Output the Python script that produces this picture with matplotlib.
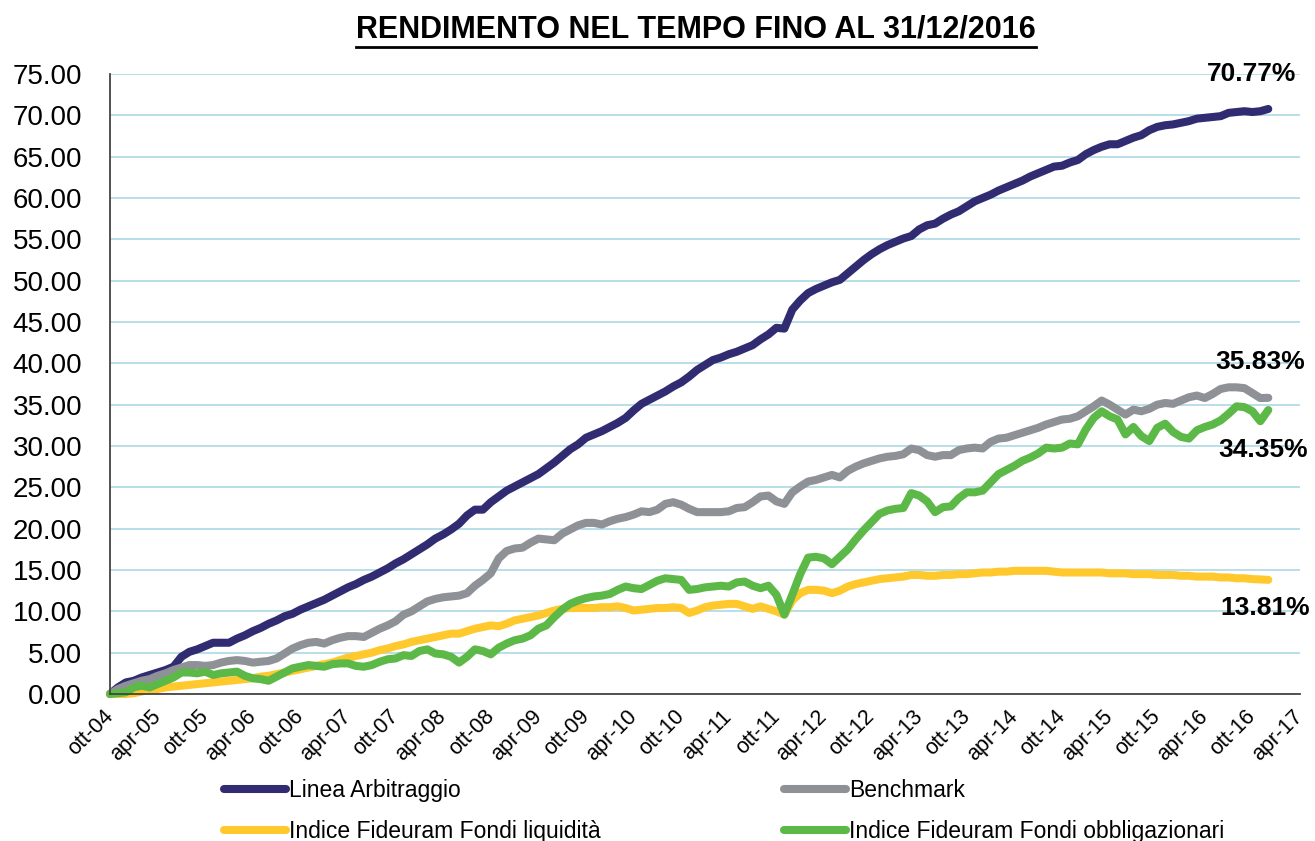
import matplotlib
matplotlib.use('Agg')
import matplotlib.pyplot as plt
from matplotlib.lines import Line2D
import numpy as np

plt.rcParams['font.family'] = ['Liberation Sans', 'DejaVu Sans']

# monthly values, ott-04 .. dic-16
linea = [0.0, 0.8, 1.4, 1.6, 2.0, 2.3, 2.6, 2.9, 3.3, 4.5, 5.1, 5.4, 5.8, 6.2, 6.2, 6.2, 6.7, 7.1, 7.6, 8.0,
         8.5, 8.9, 9.4, 9.7, 10.2, 10.6, 11.0, 11.4, 11.9, 12.4, 12.9, 13.3, 13.8, 14.2, 14.7, 15.2, 15.8, 16.3, 16.9, 17.5,
         18.1, 18.8, 19.3, 19.9, 20.6, 21.6, 22.3, 22.3, 23.2, 23.9, 24.6, 25.1, 25.6, 26.1, 26.6, 27.3, 28.0, 28.8, 29.6, 30.2,
         31.0, 31.4, 31.8, 32.3, 32.8, 33.4, 34.3, 35.1, 35.6, 36.1, 36.6, 37.2, 37.7, 38.4, 39.2, 39.8, 40.4, 40.7, 41.1, 41.4,
         41.8, 42.2, 42.9, 43.5, 44.3, 44.2, 46.5, 47.6, 48.5, 49.0, 49.4, 49.8, 50.1, 50.9, 51.7, 52.5, 53.2, 53.8, 54.3, 54.7,
         55.1, 55.4, 56.2, 56.7, 56.9, 57.5, 58.0, 58.4, 59.0, 59.6, 60.0, 60.4, 60.9, 61.3, 61.7, 62.1, 62.6, 63.0, 63.4, 63.8,
         63.9, 64.3, 64.6, 65.3, 65.8, 66.2, 66.5, 66.5, 66.9, 67.3, 67.6, 68.2, 68.6, 68.8, 68.9, 69.1, 69.3, 69.6, 69.7, 69.8,
         69.9, 70.3, 70.4, 70.5, 70.4, 70.5, 70.77]

benchmark = [0.0, 0.6, 1.0, 1.3, 1.6, 1.8, 2.2, 2.5, 2.9, 3.2, 3.5, 3.5, 3.4, 3.5, 3.8, 4.0, 4.1, 4.0, 3.8, 3.9,
             4.0, 4.3, 4.9, 5.5, 5.9, 6.2, 6.3, 6.1, 6.5, 6.8, 7.0, 7.0, 6.9, 7.4, 7.9, 8.3, 8.8, 9.6, 10.0, 10.6,
             11.2, 11.5, 11.7, 11.8, 11.9, 12.2, 13.1, 13.8, 14.6, 16.4, 17.3, 17.6, 17.7, 18.3, 18.8, 18.7, 18.6, 19.4, 19.9, 20.4,
             20.7, 20.7, 20.5, 20.9, 21.2, 21.4, 21.7, 22.1, 22.0, 22.3, 23.0, 23.2, 22.9, 22.4, 22.0, 22.0, 22.0, 22.0, 22.1, 22.5,
             22.6, 23.2, 23.9, 24.0, 23.3, 23.0, 24.4, 25.1, 25.7, 25.9, 26.2, 26.5, 26.2, 27.0, 27.5, 27.9, 28.2, 28.5, 28.7, 28.8,
             29.0, 29.7, 29.5, 28.9, 28.7, 28.9, 28.9, 29.5, 29.7, 29.8, 29.7, 30.5, 30.9, 31.0, 31.3, 31.6, 31.9, 32.2, 32.6, 32.9,
             33.2, 33.3, 33.6, 34.2, 34.8, 35.5, 35.0, 34.4, 33.8, 34.4, 34.2, 34.5, 35.0, 35.2, 35.1, 35.5, 35.9, 36.1, 35.8, 36.3,
             36.9, 37.1, 37.1, 37.0, 36.4, 35.8, 35.83]

liquidita = [0.0, 0.0, 0.0, 0.1, 0.3, 0.5, 0.6, 0.8, 0.9, 1.0, 1.1, 1.2, 1.3, 1.4, 1.5, 1.6, 1.7, 1.8, 1.9, 2.1,
             2.2, 2.4, 2.6, 2.8, 3.0, 3.2, 3.4, 3.6, 3.8, 4.1, 4.4, 4.6, 4.8, 5.0, 5.3, 5.5, 5.8, 6.0, 6.3, 6.5,
             6.7, 6.9, 7.1, 7.3, 7.3, 7.6, 7.9, 8.1, 8.3, 8.2, 8.5, 8.9, 9.1, 9.3, 9.5, 9.8, 10.1, 10.3, 10.4, 10.4,
             10.4, 10.4, 10.5, 10.5, 10.6, 10.4, 10.1, 10.2, 10.3, 10.4, 10.4, 10.5, 10.4, 9.8, 10.1, 10.5, 10.7, 10.8, 10.9, 10.9,
             10.6, 10.3, 10.6, 10.3, 10.0, 9.6, 11.3, 12.2, 12.6, 12.6, 12.5, 12.2, 12.5, 13.0, 13.3, 13.5, 13.7, 13.9, 14.0, 14.1,
             14.2, 14.4, 14.4, 14.3, 14.3, 14.4, 14.4, 14.5, 14.5, 14.6, 14.7, 14.7, 14.8, 14.8, 14.9, 14.9, 14.9, 14.9, 14.9, 14.8,
             14.7, 14.7, 14.7, 14.7, 14.7, 14.7, 14.6, 14.6, 14.6, 14.5, 14.5, 14.5, 14.4, 14.4, 14.4, 14.3, 14.3, 14.2, 14.2, 14.2,
             14.1, 14.1, 14.0, 14.0, 13.9, 13.85, 13.81]

obbligazionari = [0.0, 0.1, 0.2, 0.8, 1.0, 0.8, 1.2, 1.6, 2.0, 2.6, 2.6, 2.5, 2.7, 2.3, 2.5, 2.6, 2.7, 2.2, 1.9, 1.8,
                  1.6, 2.1, 2.6, 3.1, 3.3, 3.5, 3.4, 3.3, 3.6, 3.7, 3.7, 3.4, 3.3, 3.5, 3.9, 4.2, 4.3, 4.7, 4.6, 5.2,
                  5.4, 4.9, 4.8, 4.5, 3.8, 4.5, 5.4, 5.2, 4.8, 5.6, 6.1, 6.5, 6.7, 7.1, 7.9, 8.3, 9.3, 10.2, 10.9, 11.3,
                  11.6, 11.8, 11.9, 12.1, 12.6, 13.0, 12.8, 12.7, 13.2, 13.7, 14.0, 13.9, 13.8, 12.6, 12.7, 12.9, 13.0, 13.1, 13.0, 13.5,
                  13.6, 13.1, 12.8, 13.1, 12.0, 9.6, 12.0, 14.5, 16.5, 16.6, 16.4, 15.7, 16.6, 17.5, 18.7, 19.8, 20.8, 21.8, 22.2, 22.4,
                  22.5, 24.3, 24.0, 23.3, 22.0, 22.6, 22.7, 23.7, 24.4, 24.4, 24.6, 25.6, 26.6, 27.1, 27.6, 28.2, 28.6, 29.1, 29.8, 29.7,
                  29.8, 30.3, 30.2, 32.0, 33.4, 34.2, 33.6, 33.2, 31.4, 32.3, 31.2, 30.6, 32.2, 32.7, 31.7, 31.1, 30.9, 31.9, 32.3, 32.6,
                  33.1, 33.9, 34.8, 34.7, 34.2, 33.0, 34.35]

tick_labels = ['ott-04', 'apr-05', 'ott-05', 'apr-06', 'ott-06', 'apr-07', 'ott-07', 'apr-08', 'ott-08',
               'apr-09', 'ott-09', 'apr-10', 'ott-10', 'apr-11', 'ott-11', 'apr-12', 'ott-12', 'apr-13',
               'ott-13', 'apr-14', 'ott-14', 'apr-15', 'ott-15', 'apr-16', 'ott-16', 'apr-17']

names = ['Linea Arbitraggio', 'Benchmark', 'Indice Fideuram Fondi liquidità', 'Indice Fideuram Fondi obbligazionari']
colors = ['#312C72', '#8E9196', '#FFC92E', '#5DB947']
end_labels = ['70.77%', '35.83%', '13.81%', '34.35%']
end_offsets = [(-12, 25), (-6, 26), (-2, -20), (-4, -29)]

fig = plt.figure(figsize=(13.15, 8.41), dpi=100)
ax = fig.add_axes([110/1315, 147/841, 1190/1315, 620/841])

series = [linea, benchmark, liquidita, obbligazionari]
handles = []
for vals, name, col in zip(series, names, colors):
  x = np.arange(len(vals))
  ln, = ax.plot(x, vals, color=col, lw=5.8, label=name, clip_on=False,
                solid_capstyle='round', solid_joinstyle='round')
  handles.append(ln)

for vals, txt, off in zip(series, end_labels, end_offsets):
  ax.annotate(txt, (len(vals)-1, vals[-1]), xytext=off, textcoords='offset points',
              ha='center', va='center', fontsize=19, fontweight='bold', annotation_clip=False)

ax.set_xlim(0, 150)
ax.set_ylim(0, 75)
ax.set_yticks(np.arange(0, 76, 5))
ax.set_yticklabels([f'{v:.2f}' for v in np.arange(0, 76, 5)], fontsize=20)
ax.set_xticks(np.arange(0, 151, 6))
ax.set_xticklabels(tick_labels, rotation=45, ha='right', va='center', rotation_mode='anchor', fontsize=15.5)
ax.tick_params(axis='y', length=0, pad=20)
ax.tick_params(axis='x', length=0, pad=14)
ax.grid(axis='y', color='#B3DCE6', lw=1.3)
ax.set_axisbelow(True)
for s in ['top', 'right']:
  ax.spines[s].set_visible(False)
for s in ['left', 'bottom']:
  ax.spines[s].set_color('#444444')
  ax.spines[s].set_linewidth(1.3)

# legend fills by column, so order is row-wise as in the reference
order = [0, 2, 1, 3]
fig.legend(handles=[handles[i] for i in order], loc='upper left',
           bbox_to_anchor=(203/1315, 1 - 758/841), ncol=2,
           frameon=False, fontsize=16.5, handlelength=2.7, handletextpad=0.15,
           columnspacing=8.0, labelspacing=0.8)

title = fig.text(696/1315, 1 - 30/841, 'RENDIMENTO NEL TEMPO FINO AL 31/12/2016',
                 ha='center', va='center', fontsize=22, fontweight='bold')
fig.canvas.draw()
bb = title.get_window_extent().transformed(fig.transFigure.inverted())
fig.add_artist(Line2D([bb.x0, bb.x1], [bb.y0 - 0.002, bb.y0 - 0.002], color='black', lw=2,
                      transform=fig.transFigure))

fig.savefig('out.png', dpi=100)
